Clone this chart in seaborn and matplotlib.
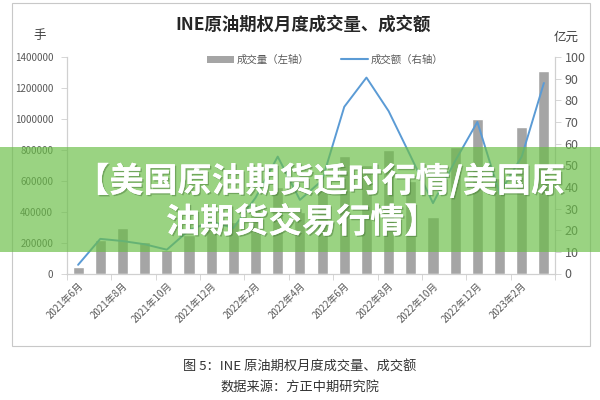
import numpy as np
import pandas as pd
import matplotlib
matplotlib.use('Agg')
import matplotlib.pyplot as plt
import matplotlib.patheffects as pe
import seaborn as sns
from matplotlib.patches import Rectangle, Patch
from matplotlib.lines import Line2D

# 数据
months = ['2021年6月', '2021年7月', '2021年8月', '2021年9月', '2021年10月', '2021年11月',
          '2021年12月', '2022年1月', '2022年2月', '2022年3月', '2022年4月', '2022年5月',
          '2022年6月', '2022年7月', '2022年8月', '2022年9月', '2022年10月', '2022年11月',
          '2022年12月', '2023年1月', '2023年2月', '2023年3月']
volume = [40000, 217000, 297000, 206000, 152000, 250000, 330000, 330000, 420000, 560000,
          400000, 560000, 757000, 700000, 796000, 600000, 363000, 820000, 1000000, 620000,
          948000, 1312000]
amount = [4, 16, 15, 13.5, 11, 20, 24, 21, 35, 54, 34, 43, 77, 90.5, 75, 54, 32.5, 52,
          70, 37, 54, 88]
left_ticks = [0, 200000, 400000, 600000, 800000, 1000000, 1200000, 1400000]
right_ticks = list(range(0, 101, 10))

sns.set_theme(style='white')
plt.rcParams['font.family'] = ['Noto Sans CJK SC', 'DejaVu Sans']

df = pd.DataFrame({'月份': months, '成交量': volume, '成交额': amount, 'pos': np.arange(len(months))})

W, H = 600, 400
fig = plt.figure(figsize=(6, 4), dpi=100)
fig.patch.set_facecolor('white')

# 外框
fig.patches.append(Rectangle((12 / W, 1 - 346 / H), 578 / W, 343 / H, transform=fig.transFigure,
                             fill=False, edgecolor='#c8c8c8', lw=0.8, zorder=0))

ax = fig.add_axes([67 / W, 1 - 273.5 / H, (555 - 67) / W, (273.5 - 57) / H])
ax.patch.set_alpha(0)
sns.barplot(data=df, x='月份', y='成交量', color='#A5A5A5', saturation=1, width=0.5, ax=ax)
ax2 = ax.twinx()
sns.lineplot(data=df, x='pos', y='成交额', color='#5B9BD5', lw=1.4, ax=ax2)

ax.set_xlim(-0.5, len(months) - 0.5)
ax2.set_xlim(-0.5, len(months) - 0.5)
ax.set_ylim(0, 1400000)
ax2.set_ylim(0, 100)
ax.set_yticks(left_ticks)
ax.set_yticklabels([str(v) for v in left_ticks])
ax2.set_yticks(right_ticks)
ax.set_xlabel('')
ax.set_ylabel('')
ax2.set_xlabel('')
ax2.set_ylabel('')

ax.set_xticks(np.arange(0, len(months), 2))
ax.set_xticklabels(months[::2], rotation=45, ha='right', rotation_mode='anchor',
                   fontsize=7, color='#595959')
ax.set_xticks(np.arange(-0.5, len(months), 2), minor=True)
ax.tick_params(axis='x', which='major', length=0, pad=5)
ax.tick_params(axis='x', which='minor', length=4, width=0.6, color='#d0d0d0', bottom=True)
ax.tick_params(axis='y', length=4, width=0.6, color='#d0d0d0', labelsize=7, labelcolor='#595959',
               left=True, pad=6)
ax2.tick_params(axis='y', length=4, width=0.6, color='#d0d0d0', labelsize=9, labelcolor='#595959',
                right=True, pad=3)

for a in (ax, ax2):
    for s in a.spines.values():
        s.set_color('#d0d0d0')
        s.set_linewidth(0.8)
    a.spines['top'].set_visible(False)
    a.grid(False)

# 标题、单位
fig.text(303 / W, 1 - 25 / H, 'INE原油期权月度成交量、成交额', ha='center', va='center',
         fontsize=12.5, fontweight='bold', color='#262626')
fig.text(40 / W, 1 - 36 / H, '手', ha='center', va='center', fontsize=9, color='#404040')
fig.text(566 / W, 1 - 37 / H, '亿元', ha='center', va='center', fontsize=9, color='#404040')

# 图例
handles = [Patch(facecolor='#A5A5A5', edgecolor='none'),
           Line2D([0], [0], color='#5B9BD5', lw=1.5)]
fig.legend(handles, ['成交量（左轴）', '成交额（右轴）'], loc='center', ncol=2,
           bbox_to_anchor=(325 / W, 1 - 60 / H), frameon=False, fontsize=7.5,
           labelcolor='#595959', handlelength=2.6, handleheight=0.7, columnspacing=3,
           handletextpad=0.3)

# 图注
fig.text(300 / W, 1 - 367 / H, '图 5：INE 原油期权月度成交量、成交额', ha='center', va='center',
         fontsize=9.5, color='#333333')
fig.text(300 / W, 1 - 388 / H, '数据来源：方正中期研究院', ha='center', va='center',
         fontsize=9.5, color='#333333')

# 绿色横幅
fig.patches.append(Rectangle((0, 1 - 252 / H), 1, 105 / H, transform=fig.transFigure,
                             facecolor='#6ABE47', alpha=0.68, edgecolor='none', zorder=5))
shadow = [pe.withSimplePatchShadow(offset=(1, -1), shadow_rgbFace='#4a7a3a', alpha=0.5), pe.Normal()]
fig.text(320 / W, 1 - 181 / H, '【美国原油期货适时行情/美国原', ha='center', va='center',
         fontsize=24.5, fontweight='black', color='white', zorder=6, path_effects=shadow)
fig.text(302 / W, 1 - 222 / H, '油期货交易行情】', ha='center', va='center',
         fontsize=24.5, fontweight='black', color='white', zorder=6, path_effects=shadow)

fig.savefig('out.png', dpi=100)
